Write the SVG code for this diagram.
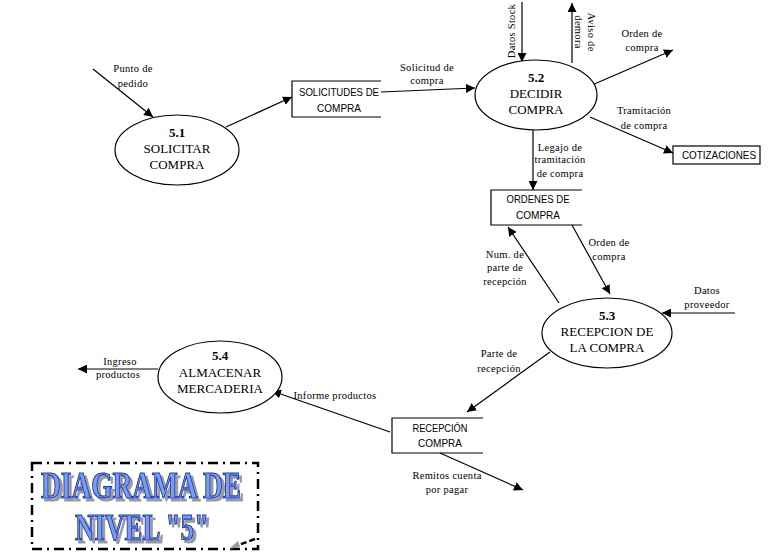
<svg xmlns="http://www.w3.org/2000/svg" width="773" height="558" viewBox="0 0 773 558">
<style>
.ln{stroke:#000;stroke-width:1.2;fill:none}
.el{fill:#fff;stroke:#000;stroke-width:1.2}
.bx{fill:none;stroke:#000;stroke-width:1.2}
.lb{font-family:"Liberation Serif",serif;font-size:10.5px;fill:#000;text-anchor:middle;letter-spacing:0.3px}
.pt{font-family:"Liberation Serif",serif;font-size:13px;fill:#000;text-anchor:middle}
.pn{font-family:"Liberation Serif",serif;font-size:13px;font-weight:bold;fill:#000;text-anchor:middle}
.st{font-family:"Liberation Sans",sans-serif;font-size:10.5px;fill:#000;text-anchor:middle}
.tt{font-family:"Liberation Serif",serif;font-size:38px;font-weight:bold;text-anchor:middle;fill:#7b9cf2;stroke:#1a3cb0;stroke-width:1.2}
</style>
<defs>
<marker id="ar" viewBox="0 0 10 10" refX="10" refY="5" markerWidth="9" markerHeight="9" markerUnits="userSpaceOnUse" orient="auto">
<path d="M0,0 L10,5 L0,10 z" fill="#000"/>
</marker>
<filter id="sh" x="-10%" y="-20%" width="130%" height="150%">
<feOffset in="SourceAlpha" dx="3" dy="3" result="o"/>
<feFlood flood-color="#9a9a9a"/>
<feComposite in2="o" operator="in" result="s"/>
<feMerge><feMergeNode in="s"/><feMergeNode in="SourceGraphic"/></feMerge>
</filter>
</defs>
<g id="connectors">
<line class="ln" x1="93" y1="69" x2="153" y2="117" marker-end="url(#ar)"/>
<line class="ln" x1="226" y1="127" x2="292" y2="97" marker-end="url(#ar)"/>
<line class="ln" x1="381" y1="92" x2="475" y2="88" marker-end="url(#ar)"/>
<line class="ln" x1="522" y1="2" x2="522" y2="62" marker-end="url(#ar)"/>
<line class="ln" x1="572" y1="63" x2="572" y2="3" marker-end="url(#ar)"/>
<line class="ln" x1="592" y1="85" x2="673" y2="50" marker-end="url(#ar)"/>
<line class="ln" x1="590" y1="117" x2="673" y2="153" marker-end="url(#ar)"/>
<line class="ln" x1="533" y1="130" x2="533" y2="190" marker-end="url(#ar)"/>
<line class="ln" x1="572" y1="225" x2="610" y2="294" marker-end="url(#ar)"/>
<line class="ln" x1="559" y1="303" x2="508" y2="227" marker-end="url(#ar)"/>
<line class="ln" x1="735" y1="313" x2="662" y2="313" marker-end="url(#ar)"/>
<line class="ln" x1="550" y1="352" x2="467" y2="412" marker-end="url(#ar)"/>
<line class="ln" x1="158" y1="369" x2="78" y2="369" marker-end="url(#ar)"/>
<line class="ln" x1="390" y1="432" x2="272" y2="391" marker-end="url(#ar)"/>
<line class="ln" x1="440" y1="453" x2="523" y2="490" marker-end="url(#ar)"/>
</g>
<g id="labels">
<text class="lb" x="133" y="72">Punto de</text>
<text class="lb" x="133" y="87">pedido</text>
<text class="lb" x="427" y="71">Solicitud de</text>
<text class="lb" x="427" y="84">compra</text>
<text class="lb" transform="translate(515,31) rotate(-90)">Datos Stock</text>
<text class="lb" transform="translate(588,32) rotate(90)">Aviso de</text>
<text class="lb" transform="translate(575,32) rotate(90)">demora</text>
<text class="lb" x="642" y="37">Orden de</text>
<text class="lb" x="642" y="51">compra</text>
<text class="lb" x="644" y="114">Tramitación</text>
<text class="lb" x="644" y="129">de compra</text>
<text class="lb" x="560" y="151">Legajo de</text>
<text class="lb" x="560" y="163">tramitación</text>
<text class="lb" x="560" y="177">de compra</text>
<text class="lb" x="609" y="246">Orden de</text>
<text class="lb" x="609" y="260">compra</text>
<text class="lb" x="505" y="258">Num. de</text>
<text class="lb" x="505" y="271">parte de</text>
<text class="lb" x="505" y="285">recepción</text>
<text class="lb" x="707" y="294">Datos</text>
<text class="lb" x="707" y="308">proveedor</text>
<text class="lb" x="499" y="357">Parte de</text>
<text class="lb" x="499" y="372">recepción</text>
<text class="lb" x="120" y="365">Ingreso</text>
<text class="lb" x="118" y="378">productos</text>
<text class="lb" x="335" y="399">Informe productos</text>
<text class="lb" x="447" y="479">Remitos cuenta</text>
<text class="lb" x="447" y="493">por pagar</text>
</g>
<g id="p51">
<ellipse class="el" cx="177" cy="150" rx="62" ry="35"/>
<text class="pn" x="177" y="137">5.1</text>
<text class="pt" x="177" y="153">SOLICITAR</text>
<text class="pt" x="177" y="169">COMPRA</text>
</g>
<g id="p52">
<ellipse class="el" cx="536" cy="95" rx="61" ry="35"/>
<text class="pn" x="536" y="82">5.2</text>
<text class="pt" x="536" y="98">DECIDIR</text>
<text class="pt" x="536" y="114">COMPRA</text>
</g>
<g id="p53">
<ellipse class="el" cx="607" cy="333" rx="65" ry="35"/>
<text class="pn" x="607" y="320">5.3</text>
<text class="pt" x="607" y="336">RECEPCION DE</text>
<text class="pt" x="607" y="352">LA COMPRA</text>
</g>
<g id="p54">
<ellipse class="el" cx="220" cy="377" rx="62" ry="36"/>
<text class="pn" x="220" y="360">5.4</text>
<text class="pt" x="220" y="377">ALMACENAR</text>
<text class="pt" x="220" y="393">MERCADERIA</text>
</g>
<g id="s_solicitudes">
<path class="bx" d="M381,81 H292 V117 H381"/>
<text class="st" x="339" y="96" textLength="80" lengthAdjust="spacingAndGlyphs">SOLICITUDES DE</text>
<text class="st" x="339" y="112" textLength="44" lengthAdjust="spacingAndGlyphs">COMPRA</text>
</g>
<g id="s_cotizaciones">
<rect class="bx" x="673" y="146" width="87" height="18"/>
<text class="st" x="719" y="159" textLength="74" lengthAdjust="spacingAndGlyphs">COTIZACIONES</text>
</g>
<g id="s_ordenes">
<path class="bx" d="M582,190 H491 V225 H582"/>
<text class="st" x="538" y="203" textLength="63" lengthAdjust="spacingAndGlyphs">ORDENES DE</text>
<text class="st" x="538" y="219" textLength="44" lengthAdjust="spacingAndGlyphs">COMPRA</text>
</g>
<g id="s_recepcion">
<path class="bx" d="M483,418 H392 V453 H483"/>
<text class="st" x="440" y="432" textLength="55" lengthAdjust="spacingAndGlyphs">RECEPCIÓN</text>
<text class="st" x="440" y="447" textLength="44" lengthAdjust="spacingAndGlyphs">COMPRA</text>
</g>
<g id="title">
<rect x="32" y="463" width="226" height="86" fill="none" stroke="#000" stroke-width="2.5" stroke-dasharray="10,5,2,5"/>
<line x1="255" y1="539" x2="236" y2="546" stroke="#000" stroke-width="2.5" stroke-dasharray="6,3"/>
<path d="M229,549 L238,541 L240,547 z" fill="#999"/>
<g filter="url(#sh)">
<text class="tt" x="141" y="498" textLength="200" lengthAdjust="spacingAndGlyphs">DIAGRAMA DE</text>
<text class="tt" x="142" y="540" textLength="134" lengthAdjust="spacingAndGlyphs">NIVEL "5"</text>
</g>
</g>
</svg>
